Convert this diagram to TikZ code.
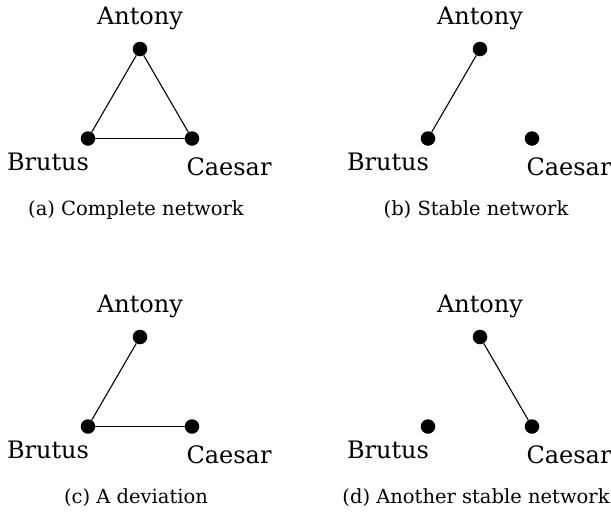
\documentclass[tikz,border=0pt]{standalone}
\usepackage{fontspec}
\setmainfont{DejaVu Serif}
\begin{document}
\begin{tikzpicture}[x=1pt,y=-1pt,
  player/.style={circle,fill=black,inner sep=0pt,minimum size=14.5pt},
  pname/.style={anchor=base,inner sep=0pt,font=\fontsize{24}{28}\selectfont},
  capt/.style={anchor=base,inner sep=0pt,font=\fontsize{19.5}{24}\selectfont},
  link/.style={line width=1.1pt}]
\useasboundingbox (0,0) rectangle (611,512);
% panel (a)
\begin{scope}
  \node[player] (aA) at (140,49) {};
  \node[player] (aB) at (88,138.5) {};
  \node[player] (aC) at (192,138.5) {};
  \node[pname] (aAl) at (140,24) {Antony};
  \node[pname] (aBl) at (48,170.5) {Brutus};
  \node[pname] (aCl) at (229,175) {Caesar};
  \node[capt] (acap) at (136,215) {(a) Complete network};
  \draw[link] (aA) -- (aB);
  \draw[link] (aA) -- (aC);
  \draw[link] (aB) -- (aC);
\end{scope}
% panel (b)
\begin{scope}[shift={(340,0)}]
  \node[player] (bA) at (140,49) {};
  \node[player] (bB) at (88,138.5) {};
  \node[player] (bC) at (192,138.5) {};
  \node[pname] (bAl) at (140,24) {Antony};
  \node[pname] (bBl) at (48,170.5) {Brutus};
  \node[pname] (bCl) at (229,175) {Caesar};
  \node[capt] (bcap) at (136,215) {(b) Stable network};
  \draw[link] (bA) -- (bB);
\end{scope}
% panel (c)
\begin{scope}[shift={(0,288)}]
  \node[player] (cA) at (140,49) {};
  \node[player] (cB) at (88,138.5) {};
  \node[player] (cC) at (192,138.5) {};
  \node[pname] (cAl) at (140,24) {Antony};
  \node[pname] (cBl) at (48,170.5) {Brutus};
  \node[pname] (cCl) at (229,175) {Caesar};
  \node[capt] (ccap) at (136,215) {(c) A deviation};
  \draw[link] (cA) -- (cB);
  \draw[link] (cB) -- (cC);
\end{scope}
% panel (d)
\begin{scope}[shift={(340,288)}]
  \node[player] (dA) at (140,49) {};
  \node[player] (dB) at (88,138.5) {};
  \node[player] (dC) at (192,138.5) {};
  \node[pname] (dAl) at (140,24) {Antony};
  \node[pname] (dBl) at (48,170.5) {Brutus};
  \node[pname] (dCl) at (229,175) {Caesar};
  \node[capt] (dcap) at (136,215) {(d) Another stable network};
  \draw[link] (dA) -- (dC);
\end{scope}
\end{tikzpicture}
\end{document}
